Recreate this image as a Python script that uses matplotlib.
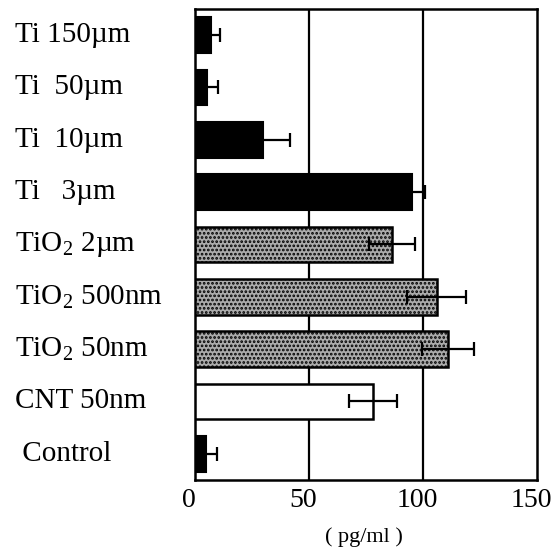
import matplotlib
matplotlib.use("Agg")
import matplotlib.pyplot as plt
from matplotlib.transforms import blended_transform_factory, ScaledTranslation

plt.rcParams['font.family'] = ['Liberation Serif', 'DejaVu Serif']
plt.rcParams['mathtext.fontset'] = 'custom'
plt.rcParams['mathtext.rm'] = 'Liberation Serif'
plt.rcParams['hatch.linewidth'] = 1.3

# top to bottom as in the picture
labels = ["Ti 150\u00b5m", "Ti  50\u00b5m", "Ti  10\u00b5m", "Ti   3\u00b5m",
          "TiO$_{\\rm 2}$ 2\u00b5m", "TiO$_{\\rm 2}$ 500nm", "TiO$_{\\rm 2}$ 50nm",
          "CNT 50nm", " Control"]
values = [7, 5.3, 30, 95, 86.5, 106, 111, 78, 4.8]
errors = [4, 5, 11.5, 6, 10, 13, 11.5, 10.5, 4.8]
kinds = ["ti", "ti", "ti", "ti", "tio2", "tio2", "tio2", "cnt", "ti"]

fig = plt.figure(figsize=(5.55, 5.54), dpi=100)
ax = fig.add_axes([0.351, 0.1336, 0.617, 0.8502])

ypos = list(range(len(labels)))[::-1]
for y, v, e, k in zip(ypos, values, errors, kinds):
    if k == "ti":
        ax.barh(y, v, height=0.68, color="black", edgecolor="black", lw=1.5, zorder=3)
    elif k == "tio2":
        ax.barh(y, v, height=0.68, color="#ababab", edgecolor="black", lw=1.8,
                hatch="....", zorder=3)
    else:
        ax.barh(y, v, height=0.68, color="white", edgecolor="black", lw=1.8, zorder=3)
    ax.errorbar(v, y, xerr=e, fmt="none", ecolor="black", elinewidth=1.6,
                capsize=5, capthick=1.6, zorder=4)

for x in [50, 100]:
    ax.axvline(x, color="black", lw=1.6, zorder=1)

ax.set_xlim(0, 150)
ax.set_ylim(-0.5, 8.5)
ax.set_xticks([0, 50, 100, 150])
ax.set_xticklabels(["0", "50", "100", "150"], fontsize=20)
ax.tick_params(axis="x", length=0, pad=6)
shift = ScaledTranslation(-6 / 100, 0, fig.dpi_scale_trans)
for t in ax.get_xticklabels():
    t.set_transform(t.get_transform() + shift)
ax.set_yticks([])
for s in ax.spines.values():
    s.set_linewidth(1.8)

tr = blended_transform_factory(fig.transFigure, ax.transData)
for y, lab in zip(ypos, labels):
    ax.text(0.027, y, lab, transform=tr, fontsize=21, va="center", ha="left")

fig.text(0.655, 0.03, "( pg/ml )", fontsize=16, ha="center", va="center")

fig.savefig("out.png", dpi=100)
